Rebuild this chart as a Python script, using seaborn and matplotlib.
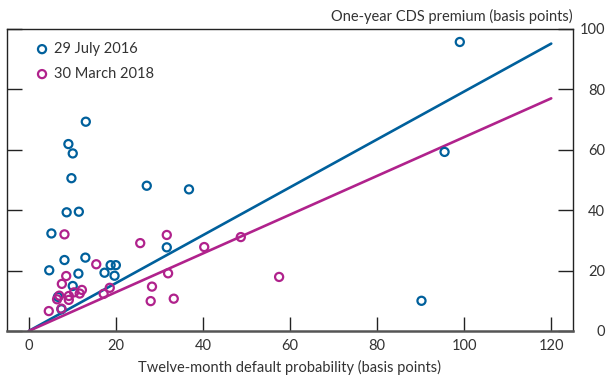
import matplotlib
matplotlib.use("Agg")
import matplotlib.pyplot as plt
import seaborn as sns
import pandas as pd
import numpy as np

# ---- data ----
series_names = ["29 July 2016", "30 March 2018"]
colors = ["#00609C", "#B0228C"]

x_2016 = [99.0, 95.5, 90.2, 13.1, 9.1, 10.1, 9.8, 8.7, 11.5, 27.1, 36.8, 5.2,
          31.7, 8.2, 13.0, 4.7, 11.4, 17.4, 18.8, 20.0, 19.7, 10.1, 6.7, 7.5]
y_2016 = [95.7, 59.3, 10.0, 69.3, 61.9, 58.8, 50.6, 39.3, 39.5, 48.1, 46.9, 32.3,
          27.7, 23.5, 24.3, 20.1, 19.0, 19.3, 21.8, 21.8, 18.3, 14.9, 11.3, 7.2]

x_2018 = [8.2, 31.7, 25.6, 40.3, 48.7, 57.5, 15.5, 32.0, 28.3, 28.0, 33.3, 18.6,
          17.2, 8.6, 7.6, 7.0, 9.2, 9.2, 12.2, 11.7, 4.6, 7.5, 6.5, 10.4]
y_2018 = [32.0, 31.8, 29.1, 27.8, 31.1, 17.9, 22.1, 19.1, 14.7, 9.9, 10.7, 14.3,
          12.3, 18.2, 15.6, 11.7, 11.6, 10.3, 13.6, 12.4, 6.6, 7.4, 10.5, 12.8]

slopes = [0.793, 0.642]
line_x = [0, 120]

x_ticks = [0, 20, 40, 60, 80, 100, 120]
y_ticks = [0, 20, 40, 60, 80, 100]

# ---- build frames ----
pts = pd.DataFrame({
    "x": x_2016 + x_2018,
    "y": y_2016 + y_2018,
    "series": [series_names[0]] * len(x_2016) + [series_names[1]] * len(x_2018),
})
lines = pd.DataFrame({
    "x": line_x * 2,
    "y": [v * slopes[0] for v in line_x] + [v * slopes[1] for v in line_x],
    "series": [series_names[0]] * 2 + [series_names[1]] * 2,
})

sns.set_style("ticks")
plt.rcParams["font.family"] = ["Lato", "DejaVu Sans"]
text_color = "#333333"

fig = plt.figure(figsize=(6.06, 3.78), dpi=100)
ax = fig.add_axes([7 / 606, 1 - 331 / 378, (573 - 7) / 606, (331 - 29) / 378])

palette = dict(zip(series_names, colors))
sns.lineplot(data=lines, x="x", y="y", hue="series", palette=palette,
             linewidth=1.9, legend=False, ax=ax)
for name, col in zip(series_names, colors):
    sub = pts[pts["series"] == name]
    ax.scatter(sub["x"], sub["y"], s=34, facecolors="none", edgecolors=col,
               linewidths=1.6, zorder=3, label=name)

ax.set_xlim(-5, 125)
ax.set_ylim(0, 100)
ax.set_xticks(x_ticks)
ax.set_yticks(y_ticks)

ax.yaxis.tick_right()
ax.tick_params(axis="x", direction="in", length=10, width=1.0, color="#222222",
               labelsize=10.5, labelcolor=text_color, pad=6)
ax.tick_params(axis="y", which="both", direction="in", length=11, width=1.0,
               color="#222222", labelsize=10.5, labelcolor=text_color,
               left=True, right=True, labelleft=False, labelright=True, pad=23)
for lab in ax.get_yticklabels():
    lab.set_horizontalalignment("right")

for side in ["left", "right", "top"]:
    ax.spines[side].set_visible(True)
    ax.spines[side].set_linewidth(1.0)
    ax.spines[side].set_color("#222222")
ax.spines["bottom"].set_linewidth(1.8)
ax.spines["bottom"].set_color("#555555")

ax.set_xlabel("Twelve-month default probability (basis points)", fontsize=10.5,
              color=text_color, labelpad=5)
ax.set_ylabel("")
fig.text(573 / 606, 1 - 16 / 378, "One-year CDS premium (basis points)",
         ha="right", va="center", fontsize=10.5, color=text_color)

leg = ax.legend(loc="upper left", bbox_to_anchor=(0.049, 0.957), frameon=False,
                fontsize=10.5, handletextpad=0.3, borderaxespad=0.0,
                labelspacing=0.75, handlelength=1.0, borderpad=0.0)
for t in leg.get_texts():
    t.set_color(text_color)

fig.savefig("out.png", dpi=100)
